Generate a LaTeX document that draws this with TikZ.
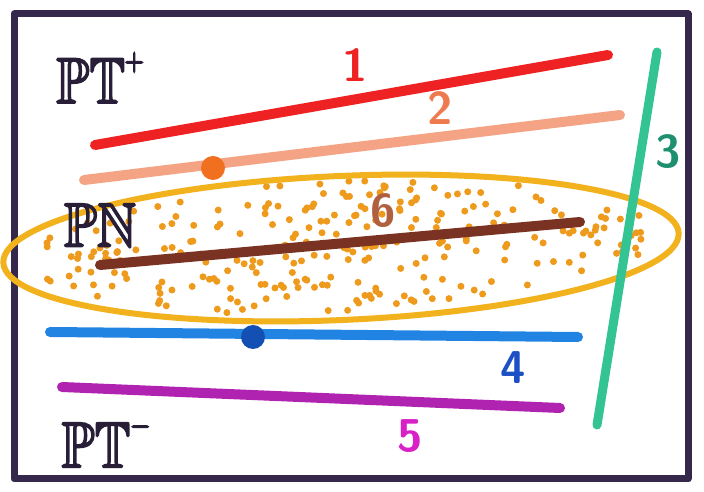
\documentclass[tikz,border=0pt]{standalone}
\usepackage{amssymb}
\newcommand{\thicktext}[1]{\special{pdf:literal direct 2 Tr 1.6 w}#1\special{pdf:literal direct 0 Tr 0.4 w}}
\begin{document}
\begin{tikzpicture}[x=1pt,y=1pt,
  stroke/.style={line width=10pt,line cap=round},
  numlabel/.style={font=\fontsize{46}{46}\selectfont\sffamily\bfseries,inner sep=0pt},
  biglabel/.style={font=\fontsize{54}{54}\selectfont,inner sep=0pt,text=framec!75!black}]
\definecolor{framec}{HTML}{35284A}
\definecolor{redc}{HTML}{EE2222}
\definecolor{salmonc}{HTML}{F4A485}
\definecolor{salmontxt}{HTML}{F07A50}
\definecolor{orangedot}{HTML}{F07020}
\definecolor{ellc}{HTML}{F2B21E}
\definecolor{dotc}{HTML}{EE9A1C}
\definecolor{brownc}{HTML}{7A3322}
\definecolor{browntxt}{HTML}{B0603F}
\definecolor{bluec}{HTML}{2284E2}
\definecolor{bluedot}{HTML}{1450B4}
\definecolor{bluetxt}{HTML}{1C50C4}
\definecolor{magc}{HTML}{B022B0}
\definecolor{magtxt}{HTML}{D822C8}
\definecolor{greenc}{HTML}{34C494}
\definecolor{greentxt}{HTML}{1E9070}
\useasboundingbox (0,0) rectangle (704,492);
\fill[white] (0,0) rectangle (704,492);
% frame
\draw[framec,line width=7pt,line join=round] (14,478) rectangle (688,13);
% ellipse with dots
\begin{scope}[shift={(341,244)},rotate=2.5]
  \pgfmathsetseed{11}
  \foreach \i in {1,...,270}{
    \pgfmathsetmacro\rr{sqrt(rnd)*0.93}
    \pgfmathsetmacro\tt{360*rnd}
    \fill[dotc] ({338*\rr*cos(\tt)},{72*\rr*sin(\tt)}) circle (3.5);
  }
  \draw[ellc,line width=6pt] (0,0) ellipse [x radius=338,y radius=72];
\end{scope}
% coordinates
\coordinate (r1) at (95,347);  \coordinate (r2) at (608,437);
\coordinate (s1) at (84,312);  \coordinate (s2) at (620,377);
\coordinate (b1) at (100,227); \coordinate (b2) at (580,270);
\coordinate (u1) at (50,160);  \coordinate (u2) at (578,155);
\coordinate (m1) at (62,105);  \coordinate (m2) at (560,84);
\coordinate (g1) at (657,440); \coordinate (g2) at (597,67);
% lines
\draw[stroke,redc] (r1) -- (r2);
\draw[stroke,salmonc] (s1) -- (s2);
\draw[stroke,brownc] (b1) -- (b2);
\draw[stroke,bluec] (u1) -- (u2);
\draw[stroke,magc] (m1) -- (m2);
\draw[stroke,greenc,line width=9pt] (g1) -- (g2);
% dots on lines
\node[circle,fill=orangedot,minimum size=24pt,inner sep=0pt] (od) at (213,324) {};
\node[circle,fill=bluedot,minimum size=24pt,inner sep=0pt] (bd) at (253,155) {};
% labels
\node[numlabel,text=redc] (l1) at (355,427) {1};
\node[numlabel,text=salmontxt] (l2) at (440,384) {2};
\node[numlabel,text=greentxt] (l3) at (668,340) {3};
\node[numlabel,text=browntxt] (l6) at (383,281) {6};
\node[numlabel,text=bluetxt] (l4) at (513,124) {4};
\node[numlabel,text=magtxt] (l5) at (410,56) {5};
\node[biglabel] (pt) at (100,414) {\thicktext{\scalebox{1}[1.2]{$\mathbb{PT}^{\textstyle +}$}}};
\node[biglabel] (pn) at (100,267) {\thicktext{\scalebox{1}[1.15]{$\mathbb{PN}$}}};
\node[biglabel] (ptm) at (106,50) {\thicktext{\scalebox{1}[1.2]{$\mathbb{PT}^{\textstyle -}$}}};
\end{tikzpicture}
\end{document}
